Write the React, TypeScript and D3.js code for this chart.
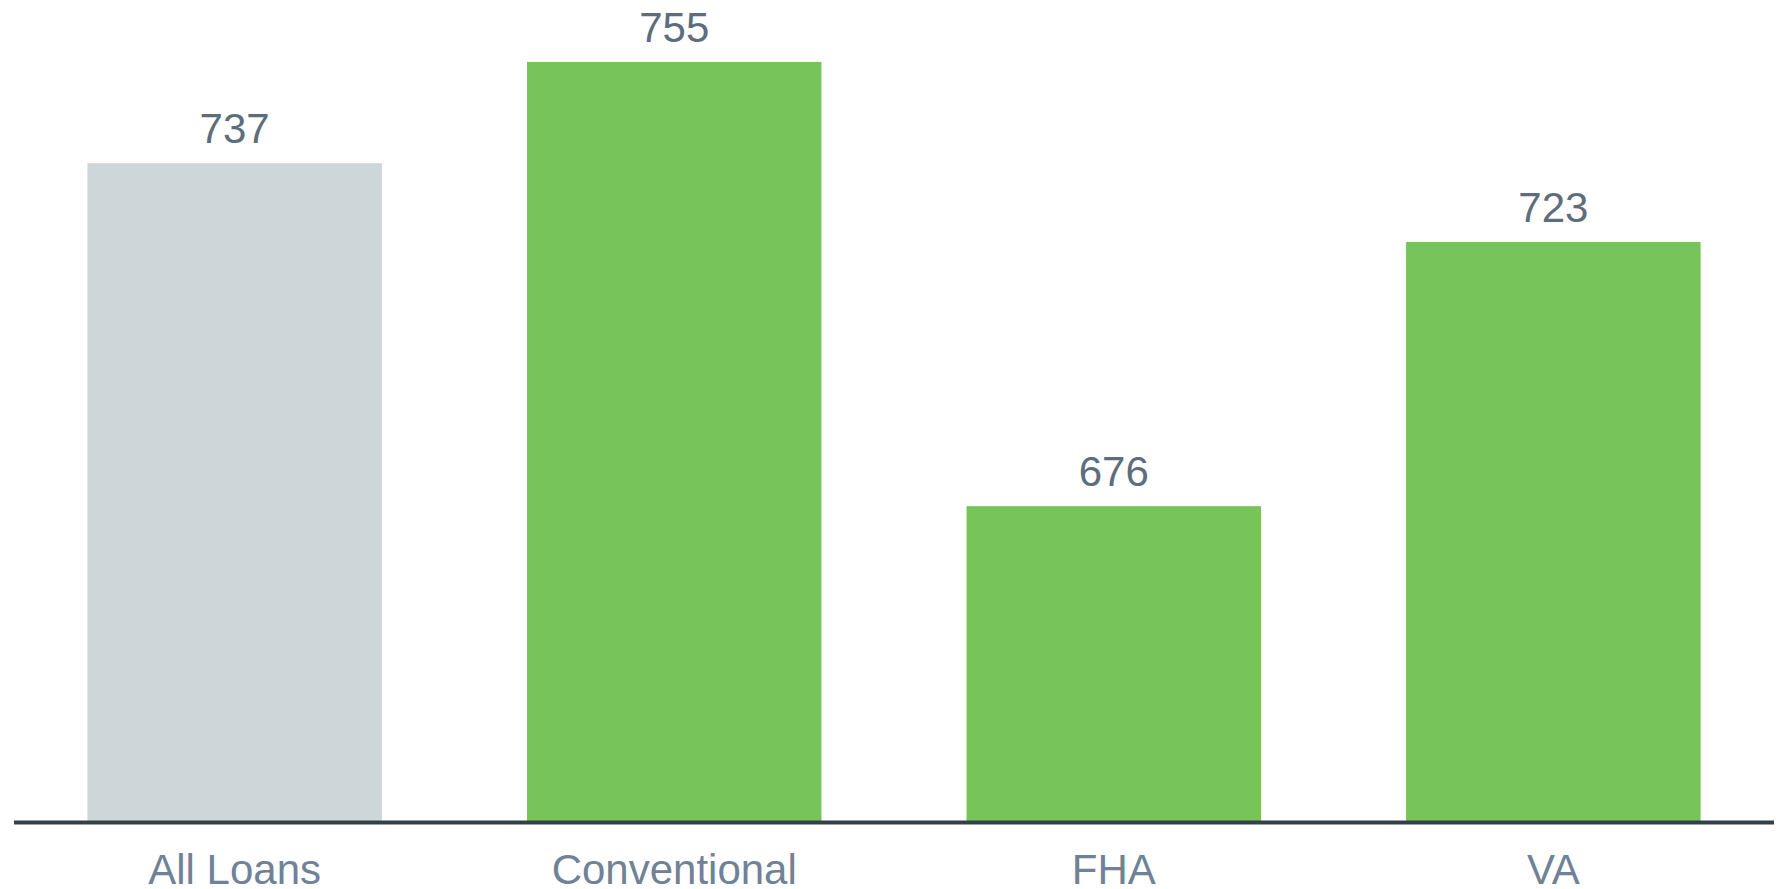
import React from "react";
import * as d3 from "d3";

const categories = ["All Loans", "Conventional", "FHA", "VA"];
const values = [737, 755, 676, 723];
const barColors = ["#CDD6D9", "#76C45A", "#76C45A", "#76C45A"];

const W = 1781;
const H = 889;

export default function App() {
  const x = d3
    .scaleBand<string>()
    .domain(categories)
    .range([14, 1774])
    .paddingInner(0.33)
    .paddingOuter(0.167);
  const y = d3.scaleLinear().domain([620, 755]).range([821, 62]);
  const font = "'Liberation Sans', Arial, Helvetica, sans-serif";

  return (
    <svg
      width={W}
      height={H}
      style={{ position: "absolute", left: 0, top: 0, background: "#fff" }}
    >
      {categories.map((c, i) => {
        const bx = x(c)!;
        const top = y(values[i]);
        return (
          <g key={c}>
            <rect
              x={bx}
              y={top}
              width={x.bandwidth()}
              height={y(620) - top}
              fill={barColors[i]}
            />
            <text
              x={bx + x.bandwidth() / 2}
              y={top - 20}
              textAnchor="middle"
              fontFamily={font}
              fontSize={42}
              fill="#5D6D7D"
            >
              {values[i]}
            </text>
            <text
              x={bx + x.bandwidth() / 2}
              y={884}
              textAnchor="middle"
              fontFamily={font}
              fontSize={42}
              fill="#6F8297"
            >
              {c}
            </text>
          </g>
        );
      })}
      <line x1={14} x2={1774} y1={822.5} y2={822.5} stroke="#353F47" strokeWidth={4} />
    </svg>
  );
}
